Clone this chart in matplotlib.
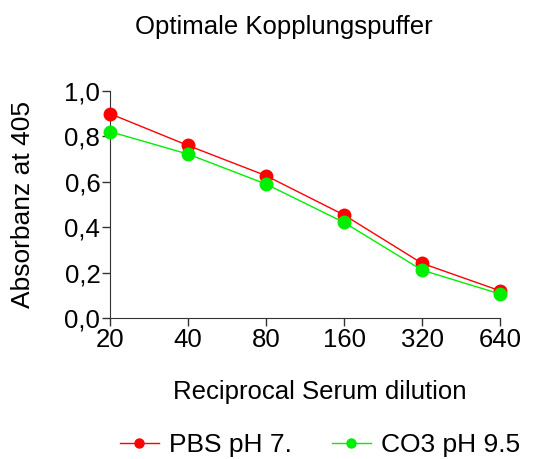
import numpy as np
import matplotlib
matplotlib.use('Agg')
import matplotlib.pyplot as plt
from matplotlib.ticker import FixedLocator, FixedFormatter

plt.rcParams['font.family'] = ['Liberation Sans', 'DejaVu Sans']

dilution = [20, 40, 80, 160, 320, 640]
pbs = [0.90, 0.76, 0.627, 0.454, 0.241, 0.120]
co3 = [0.821, 0.722, 0.590, 0.421, 0.211, 0.106]
yticks = [0.0, 0.2, 0.4, 0.6, 0.8, 1.0]
ylabels = ['0,0', '0,2', '0,4', '0,6', '0,8', '1,0']

W, H = 550, 459
fig = plt.figure(figsize=(5.5, 4.59), dpi=100)
ax = fig.add_axes([110 / W, 1 - 318 / H, 390 / W, 227 / H])

ax.plot(dilution, pbs, color='#ff0000', lw=1, marker='o', ms=9,
        label='PBS pH 7.', clip_on=False, zorder=3)
ax.plot(dilution, co3, color='#00ee00', lw=1, marker='o', ms=9,
        label='CO3 pH 9.5', clip_on=False, zorder=4)

ax.set_xscale('log', base=2)
ax.set_xlim(20, 640)
ax.set_ylim(0, 1.0)
ax.xaxis.set_major_locator(FixedLocator(dilution))
ax.xaxis.set_major_formatter(FixedFormatter([str(d) for d in dilution]))
ax.xaxis.set_minor_locator(FixedLocator([]))
ax.set_yticks(yticks)
ax.set_yticklabels(ylabels)

for s in ['top', 'right']:
    ax.spines[s].set_visible(False)
for s in ['left', 'bottom']:
    ax.spines[s].set_color('#333333')
ax.tick_params(direction='out', length=6, width=1, color='#333333',
               labelsize=18.5, pad=1)

# titles placed in figure pixels
fig.text(284 / W, 1 - 27 / H, 'Optimale Kopplungspuffer', fontsize=18.5,
         ha='center', va='center')
fig.text(320 / W, 1 - 392 / H, 'Reciprocal Serum dilution', fontsize=18.5,
         ha='center', va='center')
fig.text(23 / W, 1 - 205 / H, 'Absorbanz at 405', fontsize=19,
         ha='center', va='center', rotation=90)

fig.legend(loc='center', bbox_to_anchor=(320 / W, 1 - 445 / H), ncol=2,
           frameon=False, fontsize=19, handlelength=1.5, markerscale=0.72,
           columnspacing=1.5, handletextpad=0.38, borderaxespad=0,
           borderpad=0)

fig.savefig('out.png', dpi=100)
